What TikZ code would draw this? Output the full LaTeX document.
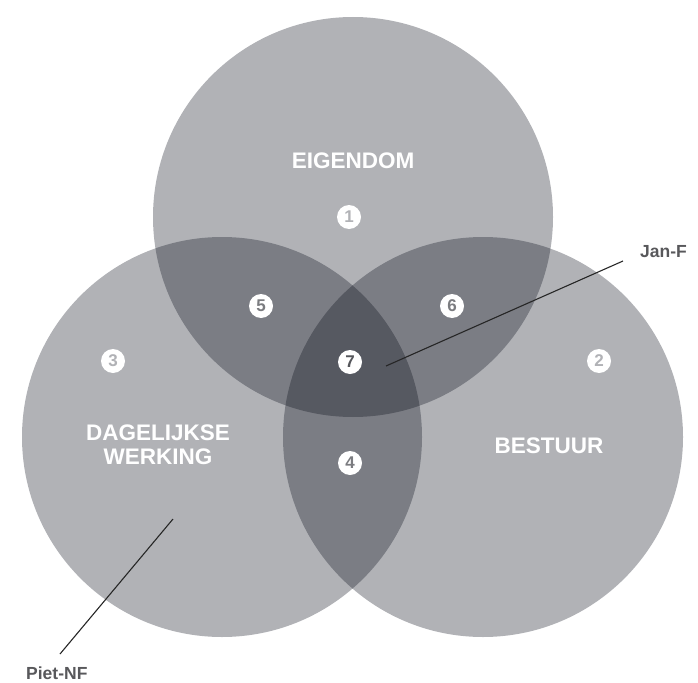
\documentclass[tikz,border=0pt]{standalone}
\usepackage{fontspec}
\setmainfont{Liberation Sans}
\usepackage{tikz}

\definecolor{ring}{RGB}{3,7,20}
\definecolor{one}{RGB}{177,178,182}
\definecolor{two}{RGB}{123,124,128}
\definecolor{three}{RGB}{86,87,92}
\definecolor{tagtext}{RGB}{88,88,91}

\begin{document}
\begin{tikzpicture}[x=1pt,y=-1pt,
        area/.style={shape=circle,minimum size=400pt,inner sep=0pt,fill=ring,fill opacity=0.31},
        num/.style={shape=circle,fill=white,minimum size=24pt,inner sep=0pt,font=\fontsize{17}{17}\selectfont\bfseries},
        lab/.style={text=white,align=center,font=\fontsize{22.5}{23.5}\selectfont\bfseries},
        tag/.style={text=tagtext,anchor=west,inner sep=0pt,font=\fontsize{17.5}{18}\selectfont\bfseries}]
        \useasboundingbox (0,0) rectangle (698,682);

        \node[area] (E) at (353,217) {};
        \node[area] (D) at (222,437) {};
        \node[area] (B) at (483,437) {};

        \node[lab] (eig) at (353,160.5) {EIGENDOM};
        \node[lab] (dag) at (158,444.5) {DAGELIJKSE\\WERKING};
        \node[lab] (bes) at (549,446) {BESTUUR};

        \node[num,text=one]   (n1) at (349,217) {1};
        \node[num,text=one]   (n2) at (599,361) {2};
        \node[num,text=one]   (n3) at (113,361) {3};
        \node[num,text=two]   (n4) at (350,463) {4};
        \node[num,text=two]   (n5) at (261,306) {5};
        \node[num,text=two]   (n6) at (452,306) {6};
        \node[num,text=three] (n7) at (350,362) {7};

        \node[tag] (jan) at (640,252) {Jan-F};
        \node[tag] (piet) at (26,673.5) {Piet-NF};

        \coordinate (janpt) at (386,366);
        \coordinate (janend) at (623,261);
        \coordinate (pietpt) at (173,519);
        \coordinate (pietend) at (60,654);

        \path [draw=black!85,line width=1.1pt](janpt) edge (janend);
        \path [draw=black!85,line width=1.1pt](pietpt) edge (pietend);
    \end{tikzpicture}
\end{document}
